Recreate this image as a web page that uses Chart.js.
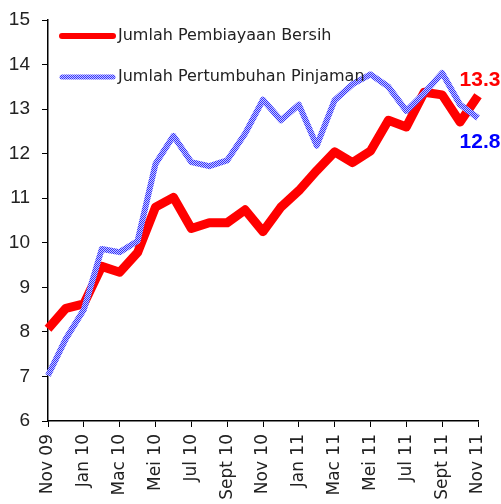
<!DOCTYPE html>
<html>
<head>
<meta charset="utf-8">
<script src="https://cdn.jsdelivr.net/npm/chart.js@4/dist/chart.umd.min.js"></script>
<style>
  html, body { margin: 0; padding: 0; background: #fff; }
  #wrap { width: 501px; height: 504px; }
</style>
</head>
<body>
<div id="wrap"><canvas id="myChart" width="501" height="504"></canvas></div>
<script>
// bulan Nov 09 - Nov 11
var bulan = ['Nov 09','Dis 09','Jan 10','Feb 10','Mac 10','Apr 10','Mei 10','Jun 10','Jul 10','Ogos 10','Sept 10','Okt 10',
             'Nov 10','Dis 10','Jan 11','Feb 11','Mac 11','Apr 11','Mei 11','Jun 11','Jul 11','Ogos 11','Sept 11','Okt 11','Nov 11'];
var pembiayaan = [8.07,8.53,8.63,9.47,9.34,9.78,10.8,11.02,10.32,10.45,10.45,10.74,10.25,10.8,11.17,11.62,12.04,11.8,12.06,12.75,12.6,13.38,13.32,12.71,13.3];
var pinjaman = [7.02,7.85,8.5,9.86,9.79,10.04,11.77,12.4,11.81,11.72,11.85,12.45,13.21,12.75,13.1,12.18,13.2,13.56,13.78,13.5,12.96,13.36,13.81,13.1,12.8];
var yMin = 6, yMax = 15;

// corak biru bertitik
function corakBiru(){
  var c = document.createElement('canvas');
  c.width = 2; c.height = 2;
  var g = c.getContext('2d');
  g.fillStyle = '#c8c8ff'; g.fillRect(0,0,2,2);
  g.fillStyle = '#3333ff'; g.fillRect(0,0,1,1); g.fillRect(1,1,1,1);
  return g.createPattern(c, 'repeat');
}
var biru = corakBiru();
var FONT = '"Liberation Sans", Arial, sans-serif';
var FONT_LEBAR = '"DejaVu Sans", sans-serif';

var legendaDalam = {
  id: 'legendaDalam',
  afterDraw: function(chart){
    var ctx = chart.ctx;
    ctx.save();
    var rows = [{ds: chart.data.datasets[0], y: 36, w: 6}, {ds: chart.data.datasets[1], y: 77, w: 5}];
    rows.forEach(function(r){
      ctx.beginPath();
      ctx.moveTo(62, r.y); ctx.lineTo(113, r.y);
      ctx.lineWidth = r.w;
      ctx.strokeStyle = r.ds.borderColor;
      ctx.lineCap = 'round';
      ctx.stroke();
      ctx.fillStyle = '#222';
      ctx.font = '16px ' + FONT_LEBAR;
      ctx.textAlign = 'left'; ctx.textBaseline = 'middle';
      ctx.fillText(r.ds.label, 118, r.y);
    });
    // nilai akhir
    var last = bulan.length - 1;
    var x = chart.scales.x.getPixelForValue(last);
    ctx.font = 'bold 21px ' + FONT;
    ctx.textAlign = 'center';
    ctx.fillStyle = '#ff0000';
    ctx.fillText(pembiayaan[last].toFixed(1), x + 2, chart.scales.y.getPixelForValue(pembiayaan[last]) - 16);
    ctx.fillStyle = '#0000ff';
    ctx.fillText(pinjaman[last].toFixed(1), x + 2, chart.scales.y.getPixelForValue(pinjaman[last]) + 24);
    ctx.restore();
  }
};

var ctx = document.getElementById('myChart').getContext('2d');
var chart = new Chart(ctx, {
  type: 'line',
  data: {
    labels: bulan,
    datasets: [{
      label: 'Jumlah Pembiayaan Bersih',
      data: pembiayaan,
      borderColor: '#ff0000',
      borderWidth: 9,
      order: 1
    }, {
      label: 'Jumlah Pertumbuhan Pinjaman',
      data: pinjaman,
      borderColor: biru,
      borderWidth: 6,
      order: 0
    }]
  },
  options: {
    responsive: false,
    animation: false,
    layout: { padding: { top: 20, right: 23, left: 0, bottom: 0 } },
    elements: { line: { tension: 0, borderJoinStyle: 'round' }, point: { radius: 0 } },
    plugins: { legend: { display: false }, tooltip: { enabled: false } },
    scales: {
      x: {
        offset: false,
        afterFit: function(s){ s.height = 83; s.paddingLeft = 0; s.paddingRight = 0; },
        border: { display: true, color: '#000', width: 1.5 },
        grid: {
          drawOnChartArea: false,
          tickLength: 6,
          tickColor: function(c){ return c.index % 2 ? 'rgba(0,0,0,0)' : '#000'; }
        },
        ticks: {
          autoSkip: false, maxRotation: 90, minRotation: 90,
          color: '#222', font: { family: FONT_LEBAR, size: 17 }, padding: 7,
          callback: function(v, i){ return i % 2 ? '' : bulan[i]; }
        }
      },
      y: {
        min: yMin, max: yMax,
        afterFit: function(s){ s.width = 48; s.paddingTop = 0; s.paddingBottom = 0; },
        border: { display: true, color: '#000', width: 1.5 },
        grid: { drawOnChartArea: false, tickLength: 6, tickColor: '#000' },
        ticks: { stepSize: 1, color: '#222', font: { family: FONT, size: 19 }, padding: 12 }
      }
    }
  },
  plugins: [legendaDalam]
});
</script>
</body>
</html>
